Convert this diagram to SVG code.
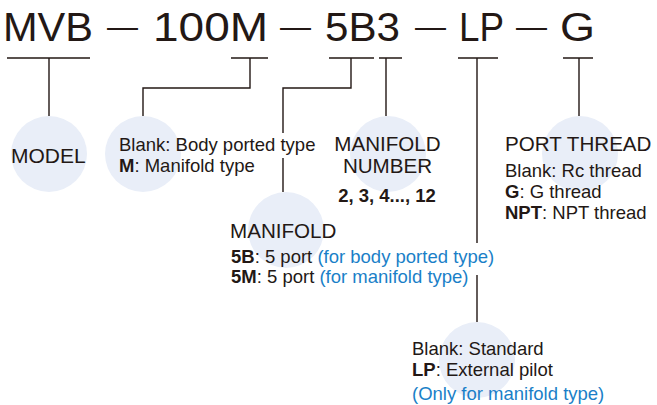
<svg xmlns="http://www.w3.org/2000/svg" width="657" height="405" viewBox="0 0 657 405">
<style>
.bg{fill:#ffffff}
.c{fill:#e9eef8}
.ln{fill:none;stroke:#231815;stroke-width:1.4}
.t{font-family:"Liberation Sans",Arial,sans-serif;fill:#231815}
.title{font-size:40px}
.dash{font-size:31px}
.h{font-size:20.6px}
.b{font-size:18.5px}
.bold{font-weight:bold}
.blue{fill:#1a7fc8}
</style>
<rect class="bg" x="0" y="0" width="657" height="405"/>
<g id="title">
<text class="t title" y="41"><tspan x="3" textLength="90" lengthAdjust="spacingAndGlyphs">MVB</tspan><tspan class="dash" x="98.4" y="37"> — </tspan><tspan x="153" y="41" textLength="115" lengthAdjust="spacingAndGlyphs">100M</tspan><tspan class="dash" x="271.4" y="37"> — </tspan><tspan x="325" y="41" textLength="75" lengthAdjust="spacingAndGlyphs">5B3</tspan><tspan class="dash" x="406.4" y="37"> — </tspan><tspan x="459" y="41" textLength="45" lengthAdjust="spacingAndGlyphs">LP</tspan><tspan class="dash" x="507.4" y="37"> — </tspan><tspan x="560" y="41" textLength="35" lengthAdjust="spacingAndGlyphs">G</tspan></text>
</g>
<g id="connectors">
<path class="ln" d="M7,58H90M49,58V116"/>
<path class="ln" d="M231,58H268M250,58V88H143V116"/>
<path class="ln" d="M329,58H374M351,58V88H283V133M283,158V192"/>
<path class="ln" d="M379,58H402M386,58V116"/>
<path class="ln" d="M458,58H498M477,58V243M477,275V322"/>
<path class="ln" d="M563,58H593M579,58V116"/>
</g>
<g id="model">
<circle class="c" cx="49" cy="154" r="38"/>
<text class="t" x="11" y="163" style="font-size:21px">MODEL</text>
</g>
<g id="type">
<circle class="c" cx="143" cy="154" r="38"/>
<text class="t b" x="119" y="151">Blank: Body ported type</text>
<text class="t b" x="119" y="172"><tspan class="bold">M</tspan>: Manifold type</text>
</g>
<g id="manifold-number">
<circle class="c" cx="388" cy="154" r="38"/>
<text class="t h" x="387.5" y="151" text-anchor="middle">MANIFOLD</text>
<text class="t h" x="387.5" y="173" text-anchor="middle">NUMBER</text>
<text class="t b bold" x="387" y="202" text-anchor="middle">2, 3, 4..., 12</text>
</g>
<g id="port-thread">
<circle class="c" cx="580" cy="154" r="38"/>
<text class="t h" x="505" y="151">PORT THREAD</text>
<text class="t b" x="505" y="177">Blank: Rc thread</text>
<text class="t b" x="505" y="198"><tspan class="bold">G</tspan>: G thread</text>
<text class="t b" x="505" y="219"><tspan class="bold">NPT</tspan>: NPT thread</text>
</g>
<g id="manifold">
<circle class="c" cx="286" cy="230" r="38"/>
<text class="t h" x="230" y="238">MANIFOLD</text>
<text class="t b" x="231" y="263"><tspan class="bold">5B</tspan>: 5 port <tspan class="blue">(for body ported type)</tspan></text>
<text class="t b" x="231" y="283"><tspan class="bold">5M</tspan>: 5 port <tspan class="blue">(for manifold type)</tspan></text>
</g>
<g id="pilot">
<circle class="c" cx="477" cy="360" r="38"/>
<text class="t b" x="412" y="355">Blank: Standard</text>
<text class="t b" x="412" y="376"><tspan class="bold">LP</tspan>: External pilot</text>
<text class="t b blue" x="412" y="400">(Only for manifold type)</text>
</g>
</svg>
